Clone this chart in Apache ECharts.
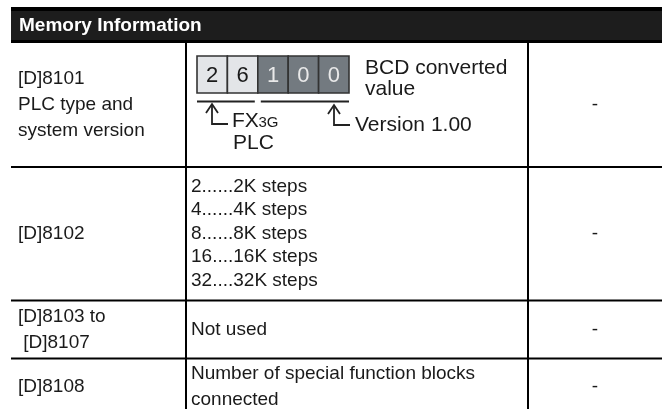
<!DOCTYPE html>
<html><head><meta charset="utf-8">
<script src="https://cdn.jsdelivr.net/npm/echarts@6/dist/echarts.min.js"></script>
<style>html,body{margin:0;padding:0;background:#fff}#c{width:666px;height:409px}</style>
</head><body><div id="c"></div>
<script>
// ---- content ----
const headerTitle = 'Memory Information';
const col1Texts = [
  ['[D]8101', 'PLC type and', 'system version'],
  ['[D]8102'],
  ['[D]8103 to', ' [D]8107'],
  ['[D]8108']
];
const col2Texts = [
  null,
  ['2......2K steps', '4......4K steps', '8......8K steps', '16....16K steps', '32....32K steps'],
  ['Not used'],
  ['Number of special function blocks', 'connected']
];
const col3Texts = ['-', '-', '-', '-'];
const bcdDigits = ['2', '6', '1', '0', '0'];
const bcdIsType = [true, true, false, false, false];
const bcdLabel = ['BCD converted', 'value'];
const typeMain = 'FX', typeSub = '3G', typeLine2 = 'PLC';
const versionLabel = 'Version 1.00';

// ---- layout / style ----
const FONT = "'Liberation Sans', Arial, Helvetica, sans-serif";
const L = 11, R = 662, HT = 7, HB = 43;
const colX = [L, 186, 528, R];
const rowY = [HB, 167, 300.5, 358.5, 416];
const BODY = 19, LH = [26, 23.5, 26, 26];
const INK = '#1a1a1a';

const els = [];
function txt(s, x, y, o) {
  o = o || {};
  els.push({type: 'text', z: 10, style: {text: s, x: x, y: y,
    font: (o.weight || 'normal') + ' ' + (o.size || BODY) + 'px ' + FONT,
    fill: o.fill || INK, textAlign: o.align || 'left', textVerticalAlign: 'middle'}});
}
function line(x1, y1, x2, y2, w, c) {
  els.push({type: 'line', z: 5, shape: {x1: x1, y1: y1, x2: x2, y2: y2},
    style: {stroke: c || '#000', lineWidth: w || 2}});
}
function rect(x, y, w, h, fill, stroke, lw) {
  els.push({type: 'rect', z: 3, shape: {x: x, y: y, width: w, height: h},
    style: {fill: fill, stroke: stroke || null, lineWidth: lw || 0}});
}

// header
rect(L, HT, R - L, HB - HT, '#000');
rect(L, HT + 4, R - L, HB - HT - 7, '#1d1d1d');
txt(headerTitle, 19, (HT + HB) / 2 + 0.5, {weight: 'bold', size: 19, fill: '#ffffff'});

// grid lines
for (let i = 1; i < rowY.length - 1; i++) line(L, rowY[i], R, rowY[i], 2);
line(colX[1], HB, colX[1], 409, 2);
line(colX[2], HB, colX[2], 409, 2);

// cell text
for (let r = 0; r < 4; r++) {
  const cy = (rowY[r] + rowY[r + 1]) / 2;
  const a = col1Texts[r];
  a.forEach((s, i) => txt(s, 18, cy + (i - (a.length - 1) / 2) * LH[r]));
  const b = col2Texts[r];
  if (b) b.forEach((s, i) => txt(s, 191, cy + (i - (b.length - 1) / 2) * LH[r]));
  txt(col3Texts[r], (colX[2] + colX[3]) / 2, cy, {align: 'center'});
}

// BCD diagram
const bx = 197, by = 56, bw = 30.4, bh = 37;
bcdDigits.forEach((d, i) => {
  rect(bx + i * bw, by, bw, bh, bcdIsType[i] ? '#e3e5e8' : '#737a80', '#333', 1.6);
  txt(d, bx + i * bw + bw / 2, by + bh / 2 + 1, {size: 22, align: 'center', fill: bcdIsType[i] ? '#1a1a1a' : '#e9e9e9'});
});
txt(bcdLabel[0], 365, 68.5, {size: 21});
txt(bcdLabel[1], 365, 89.5, {size: 21});
// underlines
line(bx, 101.5, bx + 2 * bw - 3, 101.5, 2, '#222');
line(bx + 2 * bw + 3, 101.5, bx + 5 * bw, 101.5, 2, '#222');
// arrows
function arrow(x, yTop, yBot, xEnd) {
  els.push({type: 'polyline', z: 6, shape: {points: [[x, yTop], [x, yBot], [xEnd, yBot]]},
    style: {stroke: '#222', lineWidth: 1.8, fill: null}});
  els.push({type: 'polyline', z: 6, shape: {points: [[x - 6, yTop + 9], [x, yTop], [x + 6, yTop + 9]]},
    style: {stroke: '#222', lineWidth: 1.8, fill: null}});
}
arrow(212, 104, 124, 228);
arrow(334, 105, 125, 350);
txt(typeMain, 232, 121, {size: 21});
txt(typeSub, 258.5, 123, {size: 15});
txt(typeLine2, 233, 143, {size: 21});
txt(versionLabel, 355, 125.5, {size: 21});

const chart = echarts.init(document.getElementById('c'), null, {renderer: 'canvas'});
chart.setOption({animation: false, graphic: {elements: els}});
</script></body></html>
